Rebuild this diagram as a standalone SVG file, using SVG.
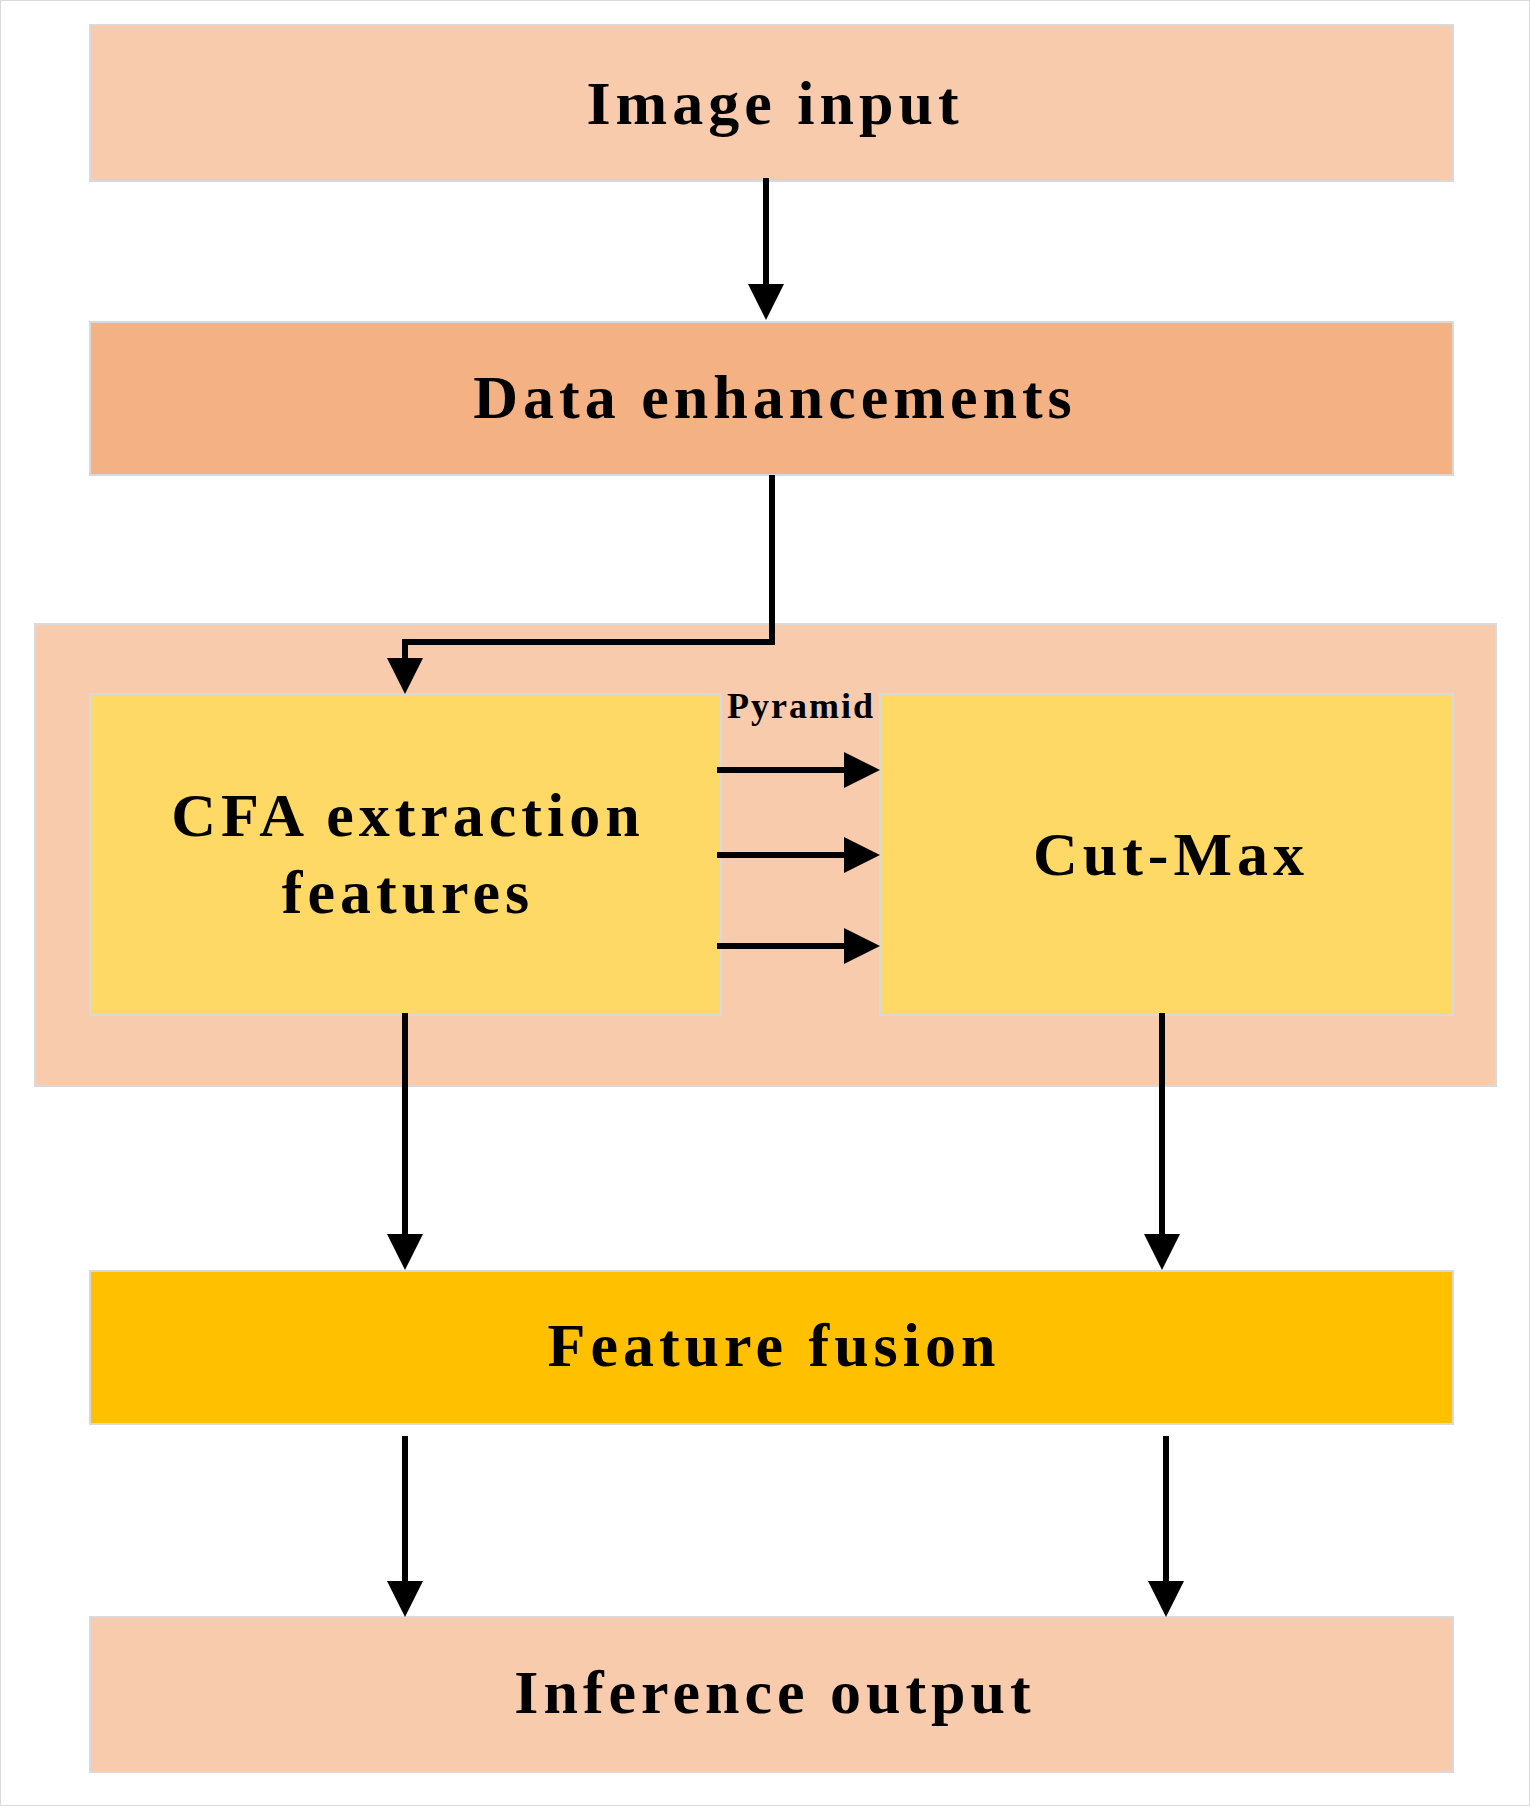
<svg xmlns="http://www.w3.org/2000/svg" width="1530" height="1806" viewBox="0 0 1530 1806">
<style>
rect{stroke:#d9d9d9;stroke-width:2}
text{font-family:"Liberation Serif",serif;font-weight:bold;text-anchor:middle;fill:#000;font-size:62px;letter-spacing:5px}
.c{fill:none;stroke:#000;stroke-width:6}
</style>
<rect width="1530" height="1806" fill="#fff" stroke="none"/>
<g id="image-input"><rect x="90" y="25" width="1363" height="156" fill="#F7CBAC"/><text x="775" y="124">Image input</text></g>
<g id="data-enh"><rect x="90" y="322" width="1363" height="153" fill="#F4B183"/><text x="775" y="418">Data enhancements</text></g>
<g id="container"><rect x="35" y="624" width="1461" height="462" fill="#F7CBAC"/></g>
<g id="cfa"><rect x="90" y="694" width="631" height="321" fill="#FFD966"/><text x="408" y="836">CFA extraction</text><text x="408" y="913">features</text></g>
<g id="cutmax"><rect x="880" y="694" width="573" height="321" fill="#FFD966"/><text x="1171" y="875">Cut-Max</text></g>
<g id="fusion"><rect x="90" y="1271" width="1363" height="153" fill="#FFC000"/><text x="774" y="1366">Feature fusion</text></g>
<g id="inference"><rect x="90" y="1617" width="1363" height="155" fill="#F7CBAC"/><text x="775" y="1713">Inference output</text></g>
<text x="801" y="718" style="font-size:36px;letter-spacing:2px">Pyramid</text>
<g id="connectors" fill="#000">
<path class="c" d="M766,178 V290"/><path d="M748,284 L766,320 L784,284 Z"/>
<path class="c" d="M772,475 V642 H405 V664"/><path d="M387,658 L405,694 L423,658 Z"/>
<path class="c" d="M717,770 H850"/><path d="M844,752 L880,770 L844,788 Z"/>
<path class="c" d="M717,855 H850"/><path d="M844,837 L880,855 L844,873 Z"/>
<path class="c" d="M717,946 H850"/><path d="M844,928 L880,946 L844,964 Z"/>
<path class="c" d="M405,1013 V1240"/><path d="M387,1234 L405,1270 L423,1234 Z"/>
<path class="c" d="M1162,1013 V1240"/><path d="M1144,1234 L1162,1270 L1180,1234 Z"/>
<path class="c" d="M405,1436 V1587"/><path d="M387,1581 L405,1617 L423,1581 Z"/>
<path class="c" d="M1166,1436 V1587"/><path d="M1148,1581 L1166,1617 L1184,1581 Z"/>
</g>
</svg>
